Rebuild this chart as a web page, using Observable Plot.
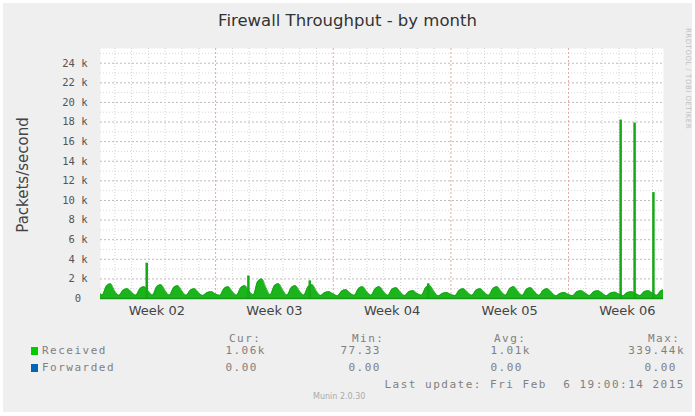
<!DOCTYPE html>
<html>
<head>
<meta charset="utf-8">
<script src="https://cdn.jsdelivr.net/npm/d3@7"></script>
<script src="https://cdn.jsdelivr.net/npm/@observablehq/plot@0.6"></script>
<style>
  body { margin: 0; background: #fff; }
  #wrap { position: relative; width: 695px; height: 416px; overflow: hidden; background: #fff; }
  #bg { position: absolute; left: 3px; top: 3px; width: 689px; height: 409px; background: #efefef; }
  #chart { position: absolute; left: 0; top: 0; }
  .t { position: absolute; white-space: pre; }
  #title { left: 0; width: 695px; top: 11px; text-align: center; font: 16.5px "DejaVu Sans", sans-serif; color: #333; }
  #ylab { left: 23px; top: 175px; transform: translate(-50%, -50%) rotate(-90deg); font: 15px "DejaVu Sans", sans-serif; color: #444; }
  #rrd { left: 684px; top: 28px; writing-mode: vertical-rl; font: 7px "DejaVu Sans", sans-serif; color: #c0c0c0; letter-spacing: 0.5px; }
  .leg { font: 11px "DejaVu Sans Mono", monospace; color: #808080; letter-spacing: 1.5px; }
  .sw { position: absolute; width: 7px; height: 8px; }
</style>
</head>
<body>
<div id="wrap">
  <div id="bg"></div>
  <div id="chart"></div>
  <div id="title" class="t"></div>
  <div id="ylab" class="t"></div>
  <div id="rrd" class="t">RRDTOOL / TOBI OETIKER</div>
</div>
<script>
// ---- data ----
const titleText = "Firewall Throughput - by month";
const yLabel = "Packets/second";
const weekLabels = ["Week 02", "Week 03", "Week 04", "Week 05", "Week 06"];
const weekCenters = [3.5, 10.5, 17.5, 24.5, 31.5];     // days since Mon 5 Jan 2015
const weekStarts = [7, 14, 21, 28];
const yTicks = [0, 2000, 4000, 6000, 8000, 10000, 12000, 14000, 16000, 18000, 20000, 22000, 24000];
const sampleHours = [0, 6, 12, 18];
// received packets/s, 4 samples per day (00h, 06h, 12h, 18h), day 0 = 5 Jan
const receivedDaily = [
  [900, 350, 1250, 1500], [750, 320, 850, 1000], [650, 330, 1000, 1200], [750, 350, 1200, 1400],
  [800, 340, 1100, 1300], [750, 320, 850, 1000], [550, 300, 600, 700], [450, 320, 1000, 1200],
  [700, 340, 1100, 1300], [750, 380, 1700, 2000], [1100, 380, 1300, 1500], [850, 340, 1100, 1300],
  [750, 340, 1200, 1400], [750, 300, 600, 700], [450, 280, 750, 900], [550, 320, 1000, 1200],
  [700, 330, 1000, 1200], [700, 320, 950, 1100], [650, 300, 700, 800], [500, 340, 1100, 1300],
  [700, 270, 520, 600], [400, 300, 850, 1000], [600, 320, 850, 1000], [600, 330, 1000, 1200],
  [700, 340, 1000, 1200], [700, 320, 950, 1100], [650, 320, 850, 1000], [600, 270, 520, 600],
  [400, 290, 700, 800], [550, 300, 700, 800], [550, 280, 560, 650], [450, 290, 600, 700],
  [500, 300, 700, 800], [550, 320, 780, 900]
];
const spikeDays = [2.9, 8.95, 12.6, 19.65, 31.1, 31.93, 33.05];
const spikeValues = [3600, 2300, 1800, 1500, 18200, 17900, 10800];
const legendNames = ["Received", "Forwarded"];
const legendColors = ["#00cc00", "#0066b3"];
const statHeaders = ["Cur:", "Min:", "Avg:", "Max:"];
const receivedStats = ["1.06k", "77.33", "1.01k", "339.44k"];
const forwardedStats = ["0.00", "0.00", "0.00", "0.00"];
const lastUpdate = "Last update: Fri Feb  6 19:00:14 2015";
const versionText = "Munin 2.0.30";

// ---- build tables ----
const received = [];
receivedDaily.forEach((vals, d) => vals.forEach((v, k) => received.push({day: d + sampleHours[k] / 24, value: v})));
received.push({day: 34, value: 600});
const spikes = spikeDays.map((d, i) => ({day: d, value: spikeValues[i]}));
const dayLines = d3.range(1, 34).filter(d => !weekStarts.includes(d));
const k1Lines = d3.range(1000, 25001, 1000).filter(v => v % 2000 !== 0);
const k2Lines = d3.range(2000, 25001, 2000);

const green = "#1cb41c";
const chart = Plot.plot({
  width: 695, height: 416,
  marginLeft: 100, marginRight: 32, marginTop: 48, marginBottom: 118,
  style: {background: "transparent", fontFamily: "DejaVu Sans, sans-serif"},
  x: {domain: [0.15, 33.65], axis: null},
  y: {domain: [0, 25500], axis: null},
  marks: [
    Plot.frame({fill: "white", stroke: "none"}),
    Plot.ruleY(k1Lines, {stroke: "#d9d9d9", strokeDasharray: "1,2"}),
    Plot.ruleY(k2Lines, {stroke: "#c4b8b8", strokeDasharray: "2,2"}),
    Plot.ruleX(dayLines, {stroke: "#d4d4d4", strokeDasharray: "1,2"}),
    Plot.ruleX(weekStarts, {stroke: "#e0aaaa", strokeDasharray: "2,2"}),
    Plot.areaY(received, {x: "day", y: "value", fill: green, curve: "monotone-x", clip: true}),
    Plot.lineY(received, {x: "day", y: "value", stroke: "#14a014", strokeWidth: 0.8, curve: "monotone-x", clip: true}),
    Plot.ruleX(spikes, {x: "day", y1: 0, y2: "value", stroke: "#16a816", strokeWidth: 2.5}),
    Plot.ruleY([0], {stroke: "#189818", strokeWidth: 1.5}),
    Plot.axisY(yTicks, {
      label: null, tickSize: 0, tickPadding: 13, fontFamily: "DejaVu Sans Mono, monospace", fontSize: 10.5, fill: "#555",
      tickFormat: d => d === 0 ? "0\u2007" : `${d / 1000} k`
    }),
    Plot.axisX(weekCenters, {
      label: null, tickSize: 0, tickPadding: 7, fontSize: 13, fill: "#444",
      tickFormat: d => weekLabels[weekCenters.indexOf(d)]
    })
  ]
});
document.getElementById("chart").appendChild(chart);
document.getElementById("title").textContent = titleText;
document.getElementById("ylab").textContent = yLabel;

// ---- legend ----
const wrap = document.getElementById("wrap");
function addText(txt, x, y, align) {
  const el = document.createElement("div");
  el.className = "t leg";
  el.textContent = txt;
  el.style.top = (y - 7) + "px";
  if (align === "right") { el.style.right = (695 - x) + "px"; } else { el.style.left = x + "px"; }
  wrap.appendChild(el);
  return el;
}
const colLeft = [229, 352, 494, 648];
const colRight = [266, 389, 531, 685];
statHeaders.forEach((h, i) => addText(h, colLeft[i], 339, "left"));
[receivedStats, forwardedStats].forEach((row, r) => {
  const y = 351 + r * 17;
  const sw = document.createElement("div");
  sw.className = "sw";
  sw.style.left = "31px"; sw.style.top = (y - 4) + "px"; sw.style.background = legendColors[r];
  wrap.appendChild(sw);
  addText(legendNames[r], 42, y, "left");
  row.forEach((v, i) => addText(v, colRight[i] - (v.endsWith("k") ? 0 : 8), y, "right"));
});
addText(lastUpdate, 685, 385, "right");
const ver = addText(versionText, 313, 399, "left");
ver.style.fontFamily = "DejaVu Sans, sans-serif"; ver.style.fontSize = "8px"; ver.style.color = "#aaa"; ver.style.letterSpacing = "0";
</script>
</body>
</html>
